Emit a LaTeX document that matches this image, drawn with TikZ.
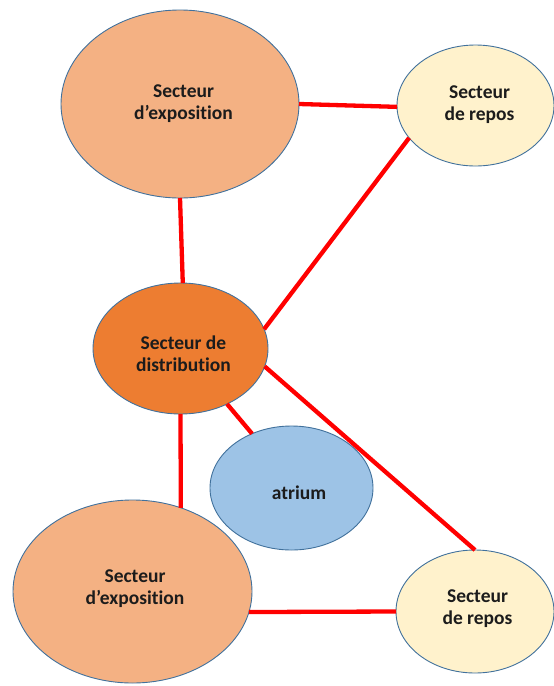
\documentclass[tikz,border=0pt]{standalone}
\usepackage{fontspec}
\setmainfont{Carlito}[Ligatures={NoCommon,NoContextual}]
\usetikzlibrary{shapes.geometric}
\definecolor{expo}{HTML}{F4B183}
\definecolor{distr}{HTML}{ED7D31}
\definecolor{repos}{HTML}{FFF2CC}
\definecolor{atr}{HTML}{9DC3E6}
\definecolor{bord}{HTML}{41719C}
\definecolor{txtc}{HTML}{1C1C1C}
\definecolor{linkred}{HTML}{FF0000}
\newcommand{\nolig}{\kern0pt\relax}
\begin{document}
\begin{tikzpicture}[x=1pt,y=-1pt,
  ell/.style={ellipse,draw=bord,line width=0.9pt,inner sep=0pt,outer sep=0pt},
  txt/.style={font=\bfseries\fontsize{19.5}{22}\selectfont,text=txtc,align=center,inner sep=0pt},
  link/.style={draw=linkred,line width=4.3pt}]
\useasboundingbox (0,0) rectangle (554,686);
\node[ell,fill=expo,minimum width=238pt,minimum height=188pt,
  label={[txt,xshift=3.5pt]center:{Secteur\\d’exposit\nolig ion}}] (E1) at (180,104) {};
\node[ell,fill=repos,minimum width=157pt,minimum height=121pt,
  label={[txt,xshift=4pt,yshift=1pt]center:{Secteur\\de repos}}] (R1) at (475.5,105.5) {};
\node[ell,fill=distr,minimum width=175pt,minimum height=131pt,
  label={[txt,xshift=3pt,yshift=-5pt]center:{Secteur de\\distribut\nolig ion}}] (D) at (180.5,348.5) {};
\node[ell,fill=atr,minimum width=163pt,minimum height=124pt,
  label={[txt,xshift=7.5pt,yshift=-5pt]center:{atrium}}] (A) at (291.5,488) {};
\node[ell,fill=expo,minimum width=239pt,minimum height=183pt,
  label={[txt,xshift=2.5pt,yshift=3pt]center:{Secteur\\d’exposit\nolig ion}}] (E2) at (132.5,591.5) {};
\node[ell,fill=repos,minimum width=158pt,minimum height=123pt,
  label={[txt,xshift=2.5pt,yshift=2.5pt]center:{Secteur\\de repos}}] (R2) at (475,611.5) {};
\draw[link] (E1.0) -- (R1.181);
\draw[link] (E1.-90) -- (D.88);
\draw[link] (R1.206) -- (D.13);
\draw[link] (D.-12) -- (R2.90);
\draw[link] (D.-50) -- (A.126);
\draw[link] (D.-90) -- (E2.60);
\draw[link] (E2.-10) -- (R2.180);
\end{tikzpicture}
\end{document}
